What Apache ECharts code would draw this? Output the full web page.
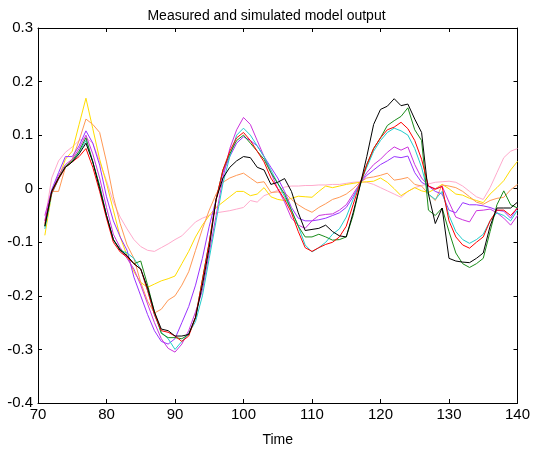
<!DOCTYPE html>
<html>
<head>
<meta charset="utf-8">
<script src="https://cdn.jsdelivr.net/npm/echarts@6/dist/echarts.min.js"></script>
<style>
html,body{margin:0;padding:0;background:#fff;}
#chart{width:533px;height:452px;}
</style>
</head>
<body>
<div id="chart"></div>
<script>
const times = [71,72,73,74,75,76,77,78,79,80,
  81,82,83,84,85,86,87,88,89,90,
  91,92,93,94,95,96,97,98,99,100,
  101,102,103,104,105,106,107,108,109,110,
  111,112,113,114,115,116,117,118,119,120,
  121,122,123,124,125,126,127,128,129,130,
  131,132,133,134,135,136,137,138,139,140];

const pink = [-0.06,0.02,0.052,0.068,0.078,0.09,0.095,0.085,0.05,0.015,
  -0.025,-0.053,-0.075,-0.095,-0.108,-0.115,-0.117,-0.11,-0.103,-0.095,
  -0.088,-0.075,-0.062,-0.055,-0.05,-0.045,-0.043,-0.041,-0.038,-0.035,
  -0.022,-0.025,-0.013,-0.008,-0.003,0.003,0.005,0.005,0.006,0.006,
  0.007,0.007,0.008,0.008,0.01,0.012,0.013,0.012,0.008,0.002,
  -0.004,-0.01,-0.016,-0.005,0.002,0.006,0.009,0.012,0.013,0.014,
  0.012,0.005,-0.005,-0.015,-0.02,0.002,0.03,0.058,0.07,0.075];

const yellow = [-0.087,-0.01,0.02,0.055,0.07,0.12,0.169,0.112,0.055,0.01,
  -0.04,-0.09,-0.125,-0.155,-0.175,-0.184,-0.178,-0.172,-0.168,-0.163,
  -0.14,-0.117,-0.09,-0.068,-0.05,-0.035,-0.025,-0.015,-0.005,-0.005,
  -0.013,-0.01,0.002,-0.015,-0.02,-0.022,-0.018,-0.014,-0.015,-0.016,
  -0.005,0.005,0.002,0.005,0.008,0.01,0.012,0.013,0.014,0.02,
  0.012,0.0,-0.013,-0.005,0.002,-0.004,-0.007,0.0,0.008,0.0,
  -0.01,-0.012,-0.018,-0.022,-0.026,-0.01,0.002,0.015,0.035,0.051];

const orange = [-0.07,-0.005,-0.005,0.04,0.055,0.09,0.13,0.12,0.105,0.05,
  -0.015,-0.065,-0.105,-0.13,-0.175,-0.21,-0.232,-0.225,-0.208,-0.2,
  -0.18,-0.155,-0.115,-0.075,-0.04,-0.01,0.012,0.02,0.025,0.029,
  0.02,0.011,0.013,-0.007,-0.006,-0.007,-0.02,-0.03,-0.038,-0.044,
  -0.035,-0.028,-0.02,-0.016,-0.01,0.0,0.012,0.02,0.022,0.025,
  0.029,0.016,0.018,0.021,0.008,0.005,-0.01,-0.022,0.007,0.005,
  0.002,-0.005,-0.015,-0.025,-0.029,-0.022,-0.018,-0.016,-0.002,0.008];

const purple = [-0.06,-0.002,0.03,0.06,0.06,0.08,0.108,0.085,0.044,-0.015,
  -0.06,-0.09,-0.115,-0.165,-0.2,-0.235,-0.265,-0.285,-0.29,-0.28,
  -0.25,-0.22,-0.18,-0.13,-0.07,-0.02,0.03,0.06,0.085,0.097,
  0.09,0.08,0.06,0.04,0.02,-0.005,-0.035,-0.055,-0.06,-0.06,
  -0.058,-0.055,-0.05,-0.045,-0.035,-0.015,0.01,0.025,0.035,0.045,
  0.052,0.06,0.058,0.061,0.03,0.012,0.005,-0.005,-0.01,-0.04,
  -0.045,-0.026,-0.03,-0.03,-0.032,-0.035,-0.04,-0.042,-0.055,-0.035];

const magenta = [-0.05,-0.003,0.025,0.045,0.055,0.075,0.1,0.065,0.02,-0.035,
  -0.085,-0.11,-0.13,-0.15,-0.18,-0.215,-0.25,-0.28,-0.298,-0.305,
  -0.29,-0.265,-0.23,-0.19,-0.12,-0.05,0.02,0.075,0.11,0.133,
  0.12,0.09,0.06,0.03,0.0,-0.025,-0.055,-0.068,-0.074,-0.06,
  -0.05,-0.048,-0.047,-0.04,-0.03,-0.01,0.01,0.03,0.045,0.055,
  0.068,0.078,0.072,0.078,0.045,0.02,0.005,0.0,0.005,-0.025,
  -0.053,-0.058,-0.062,-0.041,-0.04,-0.038,-0.045,-0.055,-0.068,-0.05];

const cyan = [-0.075,-0.01,0.018,0.04,0.05,0.068,0.09,0.05,0.005,-0.05,
  -0.095,-0.115,-0.12,-0.13,-0.15,-0.19,-0.235,-0.268,-0.28,-0.3,
  -0.285,-0.27,-0.248,-0.2,-0.13,-0.06,0.01,0.06,0.1,0.113,
  0.1,0.08,0.06,0.035,0.01,-0.015,-0.04,-0.07,-0.105,-0.118,
  -0.11,-0.1,-0.085,-0.075,-0.053,-0.02,0.01,0.04,0.07,0.09,
  0.105,0.113,0.108,0.1,0.075,0.04,-0.01,-0.02,-0.005,-0.05,
  -0.08,-0.095,-0.102,-0.095,-0.085,-0.06,-0.045,-0.05,-0.06,-0.04];

const green = [-0.07,-0.005,0.02,0.042,0.052,0.07,0.095,0.05,0.005,-0.05,
  -0.095,-0.113,-0.125,-0.14,-0.135,-0.18,-0.23,-0.27,-0.278,-0.278,
  -0.28,-0.272,-0.24,-0.17,-0.1,-0.02,0.035,0.065,0.09,0.1,
  0.085,0.07,0.055,0.03,0.01,-0.01,-0.04,-0.07,-0.09,-0.09,
  -0.085,-0.09,-0.096,-0.095,-0.09,-0.05,0.005,0.045,0.075,0.095,
  0.118,0.127,0.135,0.151,0.11,0.09,-0.04,-0.05,-0.036,-0.08,
  -0.12,-0.14,-0.147,-0.14,-0.13,-0.08,-0.03,-0.004,-0.03,-0.036];

const red = [-0.065,-0.008,0.018,0.04,0.05,0.06,0.075,0.04,-0.005,-0.055,
  -0.1,-0.118,-0.128,-0.14,-0.15,-0.19,-0.235,-0.265,-0.268,-0.275,
  -0.285,-0.275,-0.24,-0.17,-0.1,-0.02,0.035,0.07,0.095,0.105,
  0.09,0.07,0.05,0.02,0.0,-0.02,-0.045,-0.08,-0.11,-0.117,
  -0.11,-0.104,-0.1,-0.09,-0.07,-0.03,0.01,0.045,0.075,0.095,
  0.11,0.115,0.124,0.112,0.09,0.055,0.005,-0.001,0.004,-0.06,
  -0.09,-0.105,-0.111,-0.1,-0.09,-0.06,-0.04,-0.04,-0.05,-0.036];

const black = [-0.07,-0.005,0.02,0.04,0.05,0.065,0.085,0.05,0.0,-0.05,
  -0.095,-0.115,-0.125,-0.14,-0.15,-0.185,-0.23,-0.262,-0.265,-0.275,
  -0.275,-0.272,-0.24,-0.18,-0.11,-0.02,0.02,0.04,0.052,0.06,
  0.058,0.04,0.035,0.008,0.012,0.019,-0.005,-0.045,-0.078,-0.076,
  -0.074,-0.068,-0.08,-0.088,-0.09,-0.045,0.005,0.06,0.12,0.148,
  0.154,0.168,0.155,0.158,0.13,0.105,-0.01,-0.065,-0.036,-0.13,
  -0.135,-0.137,-0.138,-0.13,-0.12,-0.07,-0.036,-0.036,-0.036,-0.025];

const xTicks = [70, 80, 90, 100, 110, 120, 130, 140];
const yTicks = [-0.4, -0.3, -0.2, -0.1, 0, 0.1, 0.2, 0.3];

const seriesDefs = [
  {name: 'pink', values: pink, color: '#ffaacc'},
  {name: 'yellow', values: yellow, color: '#ffdd00'},
  {name: 'orange', values: orange, color: '#ff9955'},
  {name: 'purple', values: purple, color: '#9933ff'},
  {name: 'magenta', values: magenta, color: '#cc33dd'},
  {name: 'cyan', values: cyan, color: '#22cccc'},
  {name: 'green', values: green, color: '#1a8c1a'},
  {name: 'red', values: red, color: '#ff0000'},
  {name: 'black', values: black, color: '#000000'}
];

const FONT = 'Liberation Sans';
const chart = echarts.init(document.getElementById('chart'), null, {renderer: 'canvas'});

function axisBase(ticks, step) {
  return {
    type: 'value',
    min: ticks[0], max: ticks[ticks.length - 1], interval: step,
    axisLine: {show: true, onZero: false, lineStyle: {color: '#000', width: 1}},
    axisTick: {show: true, inside: true, length: 4, lineStyle: {color: '#000'}, customValues: ticks},
    splitLine: {show: false}
  };
}

const labelFont = {fontFamily: FONT, fontSize: 15, color: '#000'};

chart.setOption({
  animation: false,
  backgroundColor: '#fff',
  title: {
    text: 'Measured and simulated model output',
    left: 'center',
    top: 4,
    textStyle: {fontFamily: FONT, fontSize: 14, fontWeight: 'normal', color: '#000'}
  },
  grid: {left: 38, right: 11, top: 28, bottom: 42, containLabel: false},
  xAxis: [
    Object.assign(axisBase(xTicks, 10), {
      position: 'bottom',
      name: 'Time', nameLocation: 'middle', nameGap: 30,
      nameTextStyle: {fontFamily: FONT, fontSize: 14, color: '#000'},
      axisLabel: Object.assign({margin: 4, customValues: xTicks,
        formatter: function (v) { return String(Math.round(v)); }}, labelFont)
    }),
    Object.assign(axisBase(xTicks, 10), {
      position: 'top',
      axisLabel: {show: false}
    })
  ],
  yAxis: [
    Object.assign(axisBase(yTicks, 0.1), {
      position: 'left',
      axisLabel: Object.assign({margin: 5, customValues: yTicks,
        formatter: function (v) { return String(Math.round(v * 10) / 10); }}, labelFont)
    }),
    Object.assign(axisBase(yTicks, 0.1), {
      position: 'right',
      axisLabel: {show: false}
    })
  ],
  series: seriesDefs.map(function (s) {
    return {
      name: s.name,
      type: 'line',
      xAxisIndex: 0,
      yAxisIndex: 0,
      showSymbol: false,
      symbol: 'none',
      silent: true,
      lineStyle: {color: s.color, width: 1},
      itemStyle: {color: s.color},
      data: times.map(function (t, i) { return [t, s.values[i]]; })
    };
  })
});
</script>
</body>
</html>
